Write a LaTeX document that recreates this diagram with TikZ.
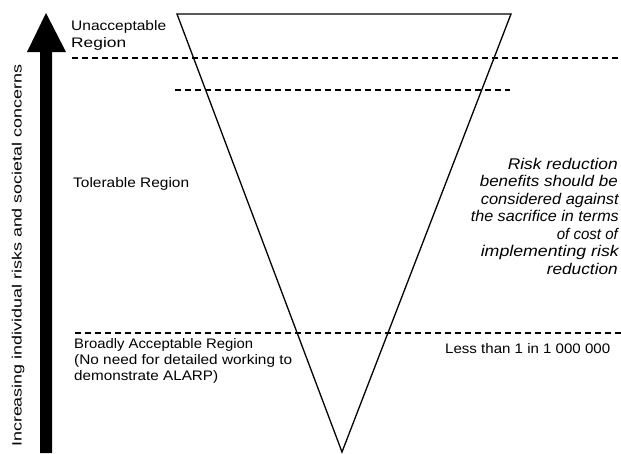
\documentclass[tikz,border=0pt]{standalone}
\usepackage{fontspec}
\setmainfont{Liberation Sans}
\usepackage{graphicx}
\newcommand{\fitline}[2]{\resizebox{#1pt}{\height}{#2}}
\begin{document}
\begin{tikzpicture}[x=1pt,y=-1pt,
  lbl/.style={inner sep=0pt, font=\fontsize{13.8}{15}\selectfont, anchor=base west},
  itl/.style={inner sep=0pt, font=\fontsize{15.5}{17}\selectfont\itshape, anchor=base east},
  dline/.style={line width=2pt, dash pattern=on 6pt off 4pt},
  tri/.style={line width=1.3pt, line join=miter}]
\useasboundingbox[fill=white] (0,0) rectangle (621,453);
% arrow
\fill[black] (40,453) -- (40,52) -- (27,52) -- (46,13) -- (66,52) -- (52,52) -- (52,453) -- cycle;
\node[inner sep=0pt, rotate=90, anchor=base west, font=\fontsize{13.5}{14}\selectfont] (axis) at (21.5,447)
  {\fitline{382}{Increasing individual risks and societal concerns}};
% triangle
\coordinate (tl) at (177,14);
\coordinate (tr) at (511,14);
\coordinate (ap) at (342,452);
\draw[tri] (tl) -- (tr) -- (ap) -- cycle;
% dashed lines
\coordinate (d1a) at (72,58);  \coordinate (d1b) at (621,58);
\coordinate (d2a) at (175,90); \coordinate (d2b) at (510,90);
\coordinate (d3a) at (75,333); \coordinate (d3b) at (621,333);
\draw[dline] (d1a) -- (d1b);
\draw[dline] (d2a) -- (d2b);
\draw[dline] (d3a) -- (d3b);
% left labels
\node[lbl] (u1) at (71,30) {\fitline{95}{Unacceptable}};
\node[lbl] (u2) at (71,47) {\fitline{55}{Region}};
\node[lbl] (tol) at (73,187) {\fitline{116}{Tolerable Region}};
\node[lbl] (b1) at (74,348) {\fitline{179}{Broadly Acceptable Region}};
\node[lbl] (b2) at (74,364) {\fitline{218}{(No need for detailed working to}};
\node[lbl] (b3) at (74,380) {\fitline{144}{demonstrate ALARP)}};
\node[lbl] (less) at (445,353) {\fitline{165}{Less than 1 in 1 000 000}};
% italic note
\node[itl] (r1) at (618,169) {\fitline{110}{Risk reduction}};
\node[itl] (r2) at (618,186.5) {\fitline{138}{benefits should be}};
\node[itl] (r3) at (619,204) {\fitline{138}{considered against}};
\node[itl] (r4) at (619,221.5) {\fitline{148}{the sacrifice in terms}};
\node[itl] (r5) at (618,239) {\fitline{61}{of cost of}};
\node[itl] (r6) at (619,256.5) {\fitline{138}{implementing risk}};
\node[itl] (r7) at (618,274) {\fitline{71}{reduction}};
\end{tikzpicture}
\end{document}
